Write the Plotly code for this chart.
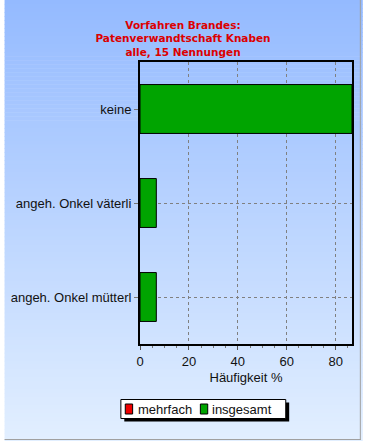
import plotly.graph_objects as go

categories = ["keine", "angeh. Onkel väterli", "angeh. Onkel mütterl"]
series_names = ["mehrfach", "insgesamt"]
mehrfach = [0, 0, 0]
insgesamt = [86.67, 6.67, 6.67]
x_ticks = [0, 20, 40, 60, 80]
title_lines = ["Vorfahren Brandes:", "Patenverwandtschaft Knaben", "alle, 15 Nennungen"]
series_colors = ["#ee0000", "#00a400"]

W, H = 365, 441
ML, MR, MT, MB = 138, 11, 62, 97
PW, PH = W - ML - MR, H - MT - MB

def px_x(p):
    return (p - ML) / PW

def px_y(p):
    return (H - MB - p) / PH

shapes = []
n = 110
top = (148, 186, 255)
bot = (226, 239, 255)
for i in range(n):
    t = (i + 0.5) / n
    c = tuple(round(top[k] + (bot[k] - top[k]) * t) for k in range(3))
    y0 = i * H / n
    y1 = (i + 1) * H / n + 0.6
    shapes.append(dict(type="rect", xref="paper", yref="paper", layer="below",
                       x0=px_x(0), x1=px_x(W), y0=px_y(y1), y1=px_y(y0),
                       line=dict(width=0), fillcolor="rgb(%d,%d,%d)" % c))
# panel border (right & bottom)
shapes.append(dict(type="line", xref="paper", yref="paper", x0=px_x(362.5), x1=px_x(362.5),
                   y0=px_y(0), y1=px_y(440), line=dict(color="#a0a0a0", width=1)))
shapes.append(dict(type="line", xref="paper", yref="paper", x0=px_x(0), x1=px_x(363),
                   y0=px_y(439.5), y1=px_y(439.5), line=dict(color="#a0a0a0", width=1)))

# custom legend (box, shadow, swatches, labels)
annotations = []
shapes.append(dict(type="rect", xref="paper", yref="paper", layer="above",
                   x0=px_x(122), x1=px_x(290), y0=px_y(421.5), y1=px_y(402.5),
                   line=dict(width=0), fillcolor="black"))
shapes.append(dict(type="rect", xref="paper", yref="paper", layer="above",
                   x0=px_x(118.5), x1=px_x(286.5), y0=px_y(418.5), y1=px_y(399.5),
                   line=dict(width=1, color="black"), fillcolor="white"))
swatch_x = [123, 199.5]
text_x = [133.5, 209.5]
for name, col, sx, tx in zip(series_names, series_colors, swatch_x, text_x):
    shapes.append(dict(type="rect", xref="paper", yref="paper", layer="above",
                       x0=px_x(sx), x1=px_x(sx + 7.5), y0=px_y(414), y1=px_y(404),
                       line=dict(width=1, color="black"), fillcolor=col))
    annotations.append(dict(text=name, xref="paper", yref="paper", x=px_x(tx), y=px_y(409),
                            xanchor="left", yanchor="middle", showarrow=False,
                            font=dict(size=13, color="#111111")))

fig = go.Figure()
fig.add_trace(go.Bar(name=series_names[0], y=categories, x=mehrfach, orientation="h",
                     marker=dict(color=series_colors[0], line=dict(color="black", width=1)),
                     width=0.52))
fig.add_trace(go.Bar(name=series_names[1], y=categories, x=insgesamt, orientation="h",
                     marker=dict(color=series_colors[1], line=dict(color="black", width=1)),
                     width=0.52))

fig.update_layout(
    width=W, height=H,
    margin=dict(l=ML, r=MR, t=MT, b=MB),
    paper_bgcolor="rgba(0,0,0,0)",
    plot_bgcolor="rgba(0,0,0,0)",
    barmode="overlay",
    shapes=shapes,
    annotations=annotations,
    showlegend=False,
    font=dict(family="Liberation Sans, Arial, sans-serif", size=13, color="#111111"),
    title=dict(text="<br>".join(title_lines), x=(183 / W), xref="container",
               xanchor="center", y=1 - 28.5 / H, yanchor="top",
               font=dict(family="DejaVu Sans, sans-serif", size=10.5,
                         color="#dd0000", weight="bold")),
    xaxis=dict(range=[0, 86.67], tickvals=x_ticks, showline=True, mirror=True,
               linecolor="black", linewidth=2, ticks="outside", ticklen=4,
               tickcolor="#555555", showgrid=True, gridcolor="#808080",
               griddash="3px,3px", gridwidth=1, zeroline=False,
               minor=dict(dtick=5, ticks="outside", ticklen=2, tickcolor="#777777", showgrid=False),
               title=dict(text="Häufigkeit %", standoff=5, font=dict(size=13)),
               tickfont=dict(size=13)),
    yaxis=dict(autorange="reversed", showline=True, mirror=True, linecolor="black",
               linewidth=2, ticks="outside", ticklen=4, tickcolor="#777777",
               showgrid=True, gridcolor="#808080", griddash="3px,3px", gridwidth=1,
               range=[2.5, -0.5], tickfont=dict(size=13)),
)
fig.write_html("out.html", config={"displayModeBar": False},
               post_script="document.body.style.margin='0';document.body.style.overflow='hidden';")
